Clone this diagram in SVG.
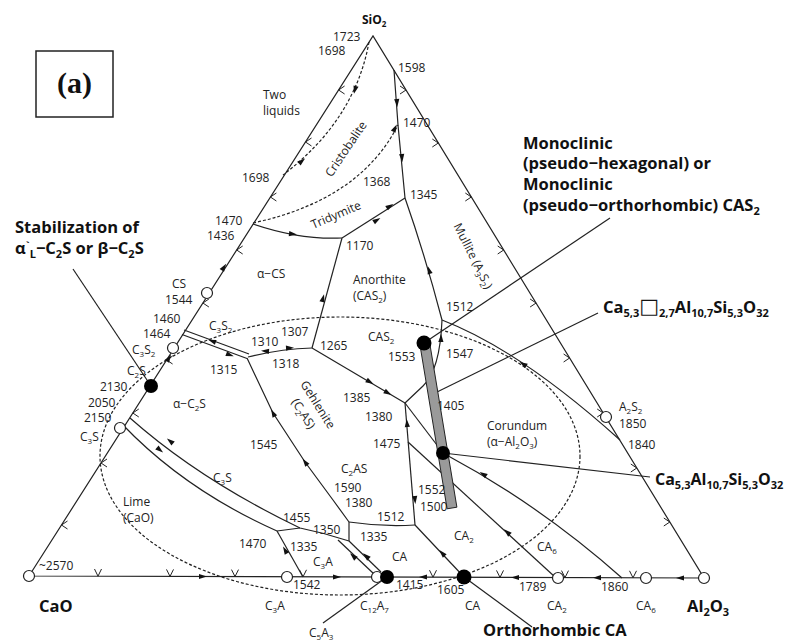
<svg xmlns="http://www.w3.org/2000/svg" width="785" height="641" viewBox="0 0 785 641">
<style>
.t{font-family:"Open Sans","Noto Sans","Liberation Sans",sans-serif;font-size:12px;fill:#222}
.b{font-family:"Open Sans","Noto Sans","Liberation Sans",sans-serif;font-size:16.5px;font-weight:bold;fill:#111}
.s{font-size:8px}
.bs{font-size:11px}
.l{fill:none;stroke:#222;stroke-width:1.2}
.d{fill:none;stroke:#222;stroke-width:1.2;stroke-dasharray:3 2}
.oc{fill:#fff;stroke:#222;stroke-width:1.2}
.bk{fill:#000}
.ah{fill:#111}
.ch{fill:none;stroke:#222;stroke-width:1}
</style>
<defs>
<path id="a" d="M4,0 L-4,-2.6 L-4,2.6 Z"/>
</defs>
<rect width="785" height="641" fill="#fff"/>
<g id="label-a">
<rect x="36" y="51" width="77" height="66" fill="#fff" stroke="#222" stroke-width="1.5"/>
<text x="74.5" y="93" text-anchor="middle" style="font-family:'Liberation Serif',serif;font-weight:bold;font-size:30px" fill="#111">(a)</text>
</g>
<g id="connectors">
<path class="l" d="M29,576 L373,36 L704,578 Z"/>
<g id="ticks" class="ch">
<path d="M344.6,86 L338.6,90 L344.6,94"/><path d="M311.5,138 L305.5,142 L311.5,146"/><path d="M276.4,193 L270.4,197 L276.4,201"/><path d="M242.7,246 L236.7,250 L242.7,254"/><path d="M208.9,299 L202.9,303 L208.9,307"/><path d="M172.6,356 L166.6,360 L172.6,364"/><path d="M138.8,409 L132.8,413 L138.8,417"/><path d="M107,459 L101,463 L107,467"/><path d="M67.5,521 L61.5,525 L67.5,529"/>
<path d="M400,86 L406,90 L400,94"/><path d="M432.3,139 L438.3,143 L432.3,147"/><path d="M465.3,193 L471.3,197 L465.3,201"/><path d="M497.7,246 L503.7,250 L497.7,254"/><path d="M530.1,299 L536.1,303 L530.1,307"/><path d="M563.6,354 L569.6,358 L563.6,362"/><path d="M597.2,409 L603.2,413 L597.2,417"/><path d="M630.8,464 L636.8,468 L630.8,472"/><path d="M663.8,518 L669.8,522 L663.8,526"/>
<path d="M94.5,569 L98,576.2 L101.5,569"/><path d="M166.5,569.4 L170,576.4 L173.5,569.4"/><path d="M231.5,569.6 L235,576.6 L238.5,569.6"/><path d="M299.5,569.8 L303,576.8 L306.5,569.8"/><path d="M429.5,570.2 L433,577.2 L436.5,570.2"/><path d="M496.5,570.4 L500,577.4 L503.5,570.4"/><path d="M561.5,570.6 L565,577.6 L568.5,570.6"/><path d="M629.5,570.8 L633,577.8 L636.5,570.8"/>
</g>
<path class="d" d="M369,42 Q355,120 283,175"/>
<path class="d" d="M253,223 Q360,200 398,125"/>
<ellipse class="d" cx="340" cy="456" rx="240" ry="139"/>
<path class="l" d="M253,224 Q300,240 342,238"/>
<path class="l" d="M342,238 L405,198"/>
<path class="l" d="M394,70 L398,125 L405,198"/>
<path class="l" d="M405,198 Q425,255 442,320"/>
<path class="l" d="M342,238 L312,348"/>
<path class="l" d="M248,357 Q280,349 312,348"/>
<path class="l" d="M184,330 L249,354"/>
<path class="l" d="M182,334.5 L247,358.5"/>
<path class="l" d="M247,358 L273,413 L305,462 L333,500 L349,522"/>
<path class="l" d="M312,348 L405,403"/>
<path class="l" d="M405,403 L423,386 Q440,370 442,320"/>
<path class="l" d="M442,320 Q520,350 620,440"/>
<path class="l" d="M405,403 L415,525"/>
<path class="l" d="M349,522 Q382,527 415,525"/>
<path class="l" d="M349,522 L349,541"/>
<path class="l" d="M122,424 Q185,490 277,531"/>
<path class="l" d="M130,418 Q200,480 300,528 Q325,533 349,541"/>
<path class="l" d="M277,531 L300,528"/>
<path class="l" d="M277,531 L303,577"/>
<path class="l" d="M338,540 L374,574"/>
<path class="l" d="M349,541 L381,572"/>
<path class="l" d="M415,525 L464,577"/>
<path class="l" d="M408,442 L555,577"/>
<path class="l" d="M405,403 L443,453"/>
<path class="l" d="M443,453 Q540,505 622,578"/>
<g id="pointers">
<path class="l" d="M73,269 L151,386"/>
<path class="l" d="M610,218 L424,343"/>
<path class="l" d="M598,313 L437,392"/>
<path class="l" d="M650,477 L443,453"/>
<path class="l" d="M532,627 L464,577"/>
<path class="l" d="M323,623 L387,577"/>
</g>
<g id="arrows" class="ah">
<use href="#a" transform="translate(355,90) rotate(105)"/>
<use href="#a" transform="translate(302,161) rotate(-40)"/>
<use href="#a" transform="translate(395,128) rotate(-63)"/>
<use href="#a" transform="translate(397,103) rotate(86)"/>
<use href="#a" transform="translate(402,158) rotate(85)"/>
<use href="#a" transform="translate(293,234) rotate(6)"/>
<use href="#a" transform="translate(377,220) rotate(-32)"/>
<use href="#a" transform="translate(390,206) rotate(-32)"/>
<use href="#a" transform="translate(323,298) rotate(-75)"/>
<use href="#a" transform="translate(429,270) rotate(-107)"/>
<use href="#a" transform="translate(212,341) rotate(200)"/>
<use href="#a" transform="translate(230,355) rotate(20)"/>
<use href="#a" transform="translate(265,351) rotate(185)"/>
<use href="#a" transform="translate(290,348) rotate(-3)"/>
<use href="#a" transform="translate(273,413) rotate(-118)"/>
<use href="#a" transform="translate(305,462) rotate(-126)"/>
<use href="#a" transform="translate(370,382) rotate(30)"/>
<use href="#a" transform="translate(388,393) rotate(30)"/>
<use href="#a" transform="translate(441,338) rotate(-88)"/>
<use href="#a" transform="translate(523,364) rotate(-150)"/>
<use href="#a" transform="translate(407,423) rotate(-95)"/>
<use href="#a" transform="translate(415,500) rotate(85)"/>
<use href="#a" transform="translate(285,550) rotate(-120)"/>
<use href="#a" transform="translate(353,556) rotate(-137)"/>
<use href="#a" transform="translate(366,556) rotate(-137)"/>
<use href="#a" transform="translate(442,553) rotate(-133)"/>
<use href="#a" transform="translate(507,532) rotate(-137)"/>
<use href="#a" transform="translate(483,474) rotate(-148)"/>
<use href="#a" transform="translate(224,267) rotate(-57.5)"/>
<use href="#a" transform="translate(169,358) rotate(-57.5)"/>
<use href="#a" transform="translate(160,450) rotate(40)"/>
<use href="#a" transform="translate(170,441) rotate(220)"/>
<use href="#a" transform="translate(203,576.5) rotate(0)"/>
<use href="#a" transform="translate(337,577) rotate(0)"/>
<use href="#a" transform="translate(423,577) rotate(180)"/>
<use href="#a" transform="translate(515,577.5) rotate(180)"/>
<use href="#a" transform="translate(597,577.7) rotate(180)"/>
<use href="#a" transform="translate(680,578) rotate(180)"/>
</g>
</g>
<g id="bar">
<path d="M420.1,345.8 L429.9,344.2 L456.9,507.2 L447.1,508.8 Z" fill="#9a9a9a" stroke="#222" stroke-width="1"/>
</g>
<g id="n-CaO"><circle class="oc" cx="29" cy="576" r="5.5"/></g>
<g id="n-C3A"><circle class="oc" cx="287" cy="577" r="5.5"/></g>
<g id="n-C12A7"><circle class="oc" cx="377" cy="577" r="5.5"/></g>
<g id="n-CA2"><circle class="oc" cx="558" cy="578" r="5.5"/></g>
<g id="n-CA6"><circle class="oc" cx="646" cy="578" r="5.5"/></g>
<g id="n-Al2O3"><circle class="oc" cx="704" cy="578" r="5.5"/></g>
<g id="n-A2S2"><circle class="oc" cx="606" cy="417" r="5.5"/></g>
<g id="n-CS"><circle class="oc" cx="207" cy="293" r="5.5"/></g>
<g id="n-C3S2"><circle class="oc" cx="173" cy="348" r="5.5"/></g>
<g id="n-C3S"><circle class="oc" cx="120" cy="428" r="5.5"/></g>
<g id="n-CA"><circle class="bk" cx="387" cy="577" r="7"/></g>
<g id="n-CA-ortho"><circle class="bk" cx="464" cy="577" r="7.5"/></g>
<g id="n-C2S"><circle class="bk" cx="151" cy="386" r="7"/></g>
<g id="n-CAS2"><circle class="bk" cx="424" cy="343" r="7.5"/></g>
<g id="n-Ca53"><circle class="bk" cx="443" cy="453" r="7"/></g>
<g id="labels" class="t">
<text class="b" x="362" y="24" style="font-size:12px">SiO<tspan dy="3" style="font-size:8px">2</tspan></text>
<text x="333" y="41">1723</text>
<text x="318" y="55">1698</text>
<text x="398" y="72">1598</text>
<text x="263" y="99">Two</text>
<text x="263" y="115">liquids</text>
<text x="403" y="127">1470</text>
<text text-anchor="middle" transform="translate(346,149) rotate(-56)" y="4">Cristobalite</text>
<text x="242" y="182">1698</text>
<text x="363" y="186">1368</text>
<text x="410" y="199">1345</text>
<text text-anchor="middle" transform="translate(336,215) rotate(-23)" y="4">Tridymite</text>
<text x="215" y="225">1470</text>
<text x="207" y="240">1436</text>
<text x="346" y="250">1170</text>
<text x="257" y="278">α−CS</text>
<text x="353" y="284">Anorthite</text>
<text x="353" y="300">(CAS<tspan class="s" dy="3">2</tspan><tspan dy="-3">)</tspan></text>
<text text-anchor="middle" transform="translate(473,256) rotate(63)" y="4">Mullite (A<tspan class="s" dy="3">3</tspan><tspan dy="-3">S</tspan><tspan class="s" dy="3">2</tspan><tspan dy="-3">)</tspan></text>
<text x="172" y="288">CS</text>
<text x="165" y="304">1544</text>
<text x="153" y="323">1460</text>
<text x="143" y="338">1464</text>
<text x="132" y="354">C<tspan class="s" dy="3">3</tspan><tspan dy="-3">S</tspan><tspan class="s" dy="3">2</tspan></text>
<text x="127" y="375">C<tspan class="s" dy="3">2</tspan><tspan dy="-3">S</tspan></text>
<text x="100" y="391">2130</text>
<text x="88" y="407">2050</text>
<text x="84" y="422">2150</text>
<text x="80" y="441">C<tspan class="s" dy="3">3</tspan><tspan dy="-3">S</tspan></text>
<text x="209" y="330">C<tspan class="s" dy="3">3</tspan><tspan dy="-3">S</tspan><tspan class="s" dy="3">2</tspan></text>
<text x="251" y="346">1310</text>
<text x="281" y="336">1307</text>
<text x="272" y="368">1318</text>
<text x="210" y="374">1315</text>
<text x="320" y="350">1265</text>
<text x="368" y="341">CAS<tspan class="s" dy="3">2</tspan></text>
<text x="388" y="361">1553</text>
<text x="446" y="358">1547</text>
<text x="446" y="311">1512</text>
<text x="343" y="402">1385</text>
<text x="365" y="421">1380</text>
<text x="437" y="410">1405</text>
<text x="373" y="448">1475</text>
<text x="173" y="408">α−C<tspan class="s" dy="3">2</tspan><tspan dy="-3">S</tspan></text>
<text x="250" y="449">1545</text>
<g transform="translate(311,409) rotate(58)"><text text-anchor="middle" y="-4">Gehlenite</text><text text-anchor="middle" y="13">(C<tspan class="s" dy="3">2</tspan><tspan dy="-3">AS)</tspan></text></g>
<text x="487" y="430">Corundum</text>
<text x="487" y="446">(α−Al<tspan class="s" dy="3">2</tspan><tspan dy="-3">O</tspan><tspan class="s" dy="3">3</tspan><tspan dy="-3">)</tspan></text>
<text x="619" y="411">A<tspan class="s" dy="3">2</tspan><tspan dy="-3">S</tspan><tspan class="s" dy="3">2</tspan></text>
<text x="619" y="428">1850</text>
<text x="628" y="449">1840</text>
<text x="123" y="506">Lime</text>
<text x="123" y="522">(CaO)</text>
<text x="213" y="482">C<tspan class="s" dy="3">3</tspan><tspan dy="-3">S</tspan></text>
<text x="239" y="548">1470</text>
<text x="39" y="570">~2570</text>
<text x="265" y="610">C<tspan class="s" dy="3">3</tspan><tspan dy="-3">A</tspan></text>
<text x="283" y="522">1455</text>
<text x="313" y="534">1350</text>
<text x="290" y="551">1335</text>
<text x="313" y="566">C<tspan class="s" dy="3">3</tspan><tspan dy="-3">A</tspan></text>
<text x="293" y="589">1542</text>
<text x="341" y="473">C<tspan class="s" dy="3">2</tspan><tspan dy="-3">AS</tspan></text>
<text x="334" y="492">1590</text>
<text x="345" y="507">1380</text>
<text x="377" y="521">1512</text>
<text x="360" y="541">1335</text>
<text x="392" y="561">CA</text>
<text x="418" y="494">1552</text>
<text x="420" y="511">1500</text>
<text x="454" y="540">CA<tspan class="s" dy="3">2</tspan></text>
<text x="396" y="589">1415</text>
<text x="437" y="594">1605</text>
<text x="465" y="610">CA</text>
<text x="360" y="610">C<tspan class="s" dy="3">12</tspan><tspan dy="-3">A</tspan><tspan class="s" dy="3">7</tspan></text>
<text x="309" y="637">C<tspan class="s" dy="3">5</tspan><tspan dy="-3">A</tspan><tspan class="s" dy="3">3</tspan></text>
<text x="537" y="551">CA<tspan class="s" dy="3">6</tspan></text>
<text x="519" y="591">1789</text>
<text x="601" y="591">1860</text>
<text x="547" y="610">CA<tspan class="s" dy="3">2</tspan></text>
<text x="636" y="610">CA<tspan class="s" dy="3">6</tspan></text>
</g>
<g id="callouts" class="b">
<text x="39" y="612">CaO</text>
<text x="687" y="612">Al<tspan class="bs" dy="4">2</tspan><tspan dy="-4">O</tspan><tspan class="bs" dy="4">3</tspan></text>
<text x="483" y="636">Orthorhombic CA</text>
<text x="15" y="233">Stabilization of</text>
<text x="15" y="254">α<tspan class="bs" dy="-4">`</tspan><tspan class="bs" dy="8">L</tspan><tspan dy="-4">−C</tspan><tspan class="bs" dy="4">2</tspan><tspan dy="-4">S or β−C</tspan><tspan class="bs" dy="4">2</tspan><tspan dy="-4">S</tspan></text>
<text x="523" y="149">Monoclinic</text>
<text x="523" y="169">(pseudo−hexagonal) or</text>
<text x="523" y="190">Monoclinic</text>
<text x="523" y="211">(pseudo−orthorhombic) CAS<tspan class="bs" dy="4">2</tspan></text>
<text x="603" y="313">Ca<tspan class="bs" dy="4">5,3</tspan><tspan dy="-4" style="font-family:'DejaVu Sans',sans-serif;font-weight:normal;font-size:21px">□</tspan><tspan class="bs" dy="4">2,7</tspan><tspan dy="-4">Al</tspan><tspan class="bs" dy="4">10,7</tspan><tspan dy="-4">Si</tspan><tspan class="bs" dy="4">5,3</tspan><tspan dy="-4">O</tspan><tspan class="bs" dy="4">32</tspan></text>
<text x="655" y="485" style="font-size:16px">Ca<tspan class="bs" dy="4">5,3</tspan><tspan dy="-4">Al</tspan><tspan class="bs" dy="4">10,7</tspan><tspan dy="-4">Si</tspan><tspan class="bs" dy="4">5,3</tspan><tspan dy="-4">O</tspan><tspan class="bs" dy="4">32</tspan></text>
</g>
</svg>
